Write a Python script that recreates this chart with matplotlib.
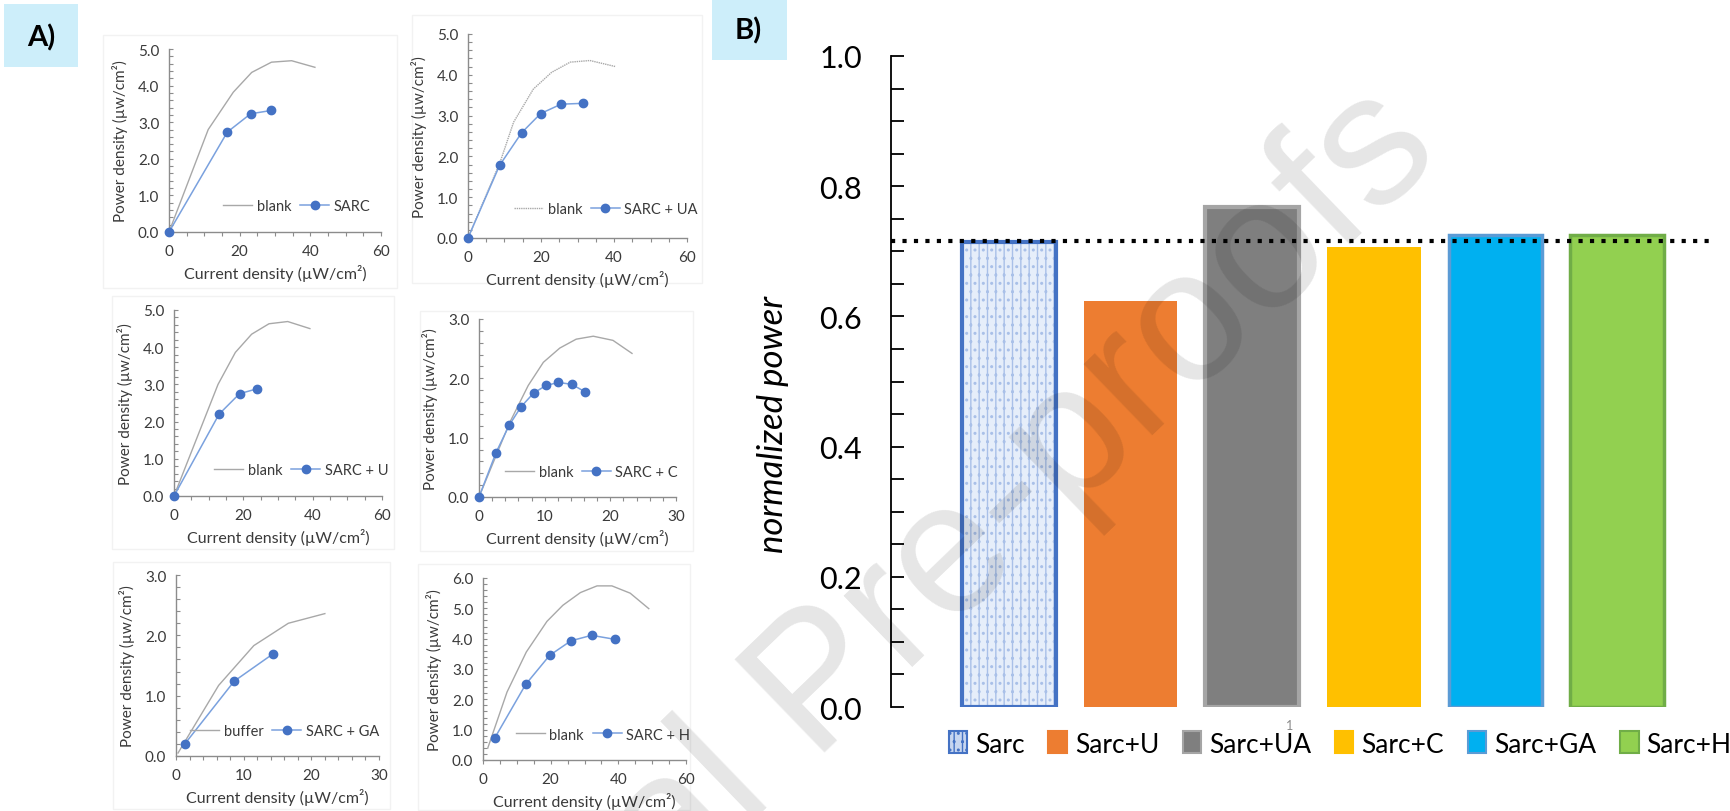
import matplotlib
matplotlib.use('Agg')
import numpy as np
import matplotlib.pyplot as plt
from matplotlib.ticker import MultipleLocator, FormatStrFormatter
from matplotlib.patches import Patch, Rectangle

plt.rcParams['font.family'] = ['Lato', 'DejaVu Sans']

W, H = 1730, 812

# ---------------- Panel A data ----------------
sarc_blank_x = [0, 11.1, 18.2, 23.4, 29.0, 34.7, 41.3]
sarc_blank_y = [0, 2.80, 3.82, 4.36, 4.64, 4.68, 4.50]
sarc_x = [0, 16.5, 23.1, 28.9]
sarc_y = [0, 2.73, 3.23, 3.32]

ua_blank_x = [0, 8.8, 12.5, 17.9, 22.9, 28.0, 33.4, 40.5]
ua_blank_y = [0, 1.86, 2.84, 3.65, 4.06, 4.31, 4.35, 4.20]
ua_x = [0, 8.65, 14.7, 19.9, 25.5, 31.4]
ua_y = [0, 1.78, 2.58, 3.05, 3.28, 3.30]

u_blank_x = [0, 12.7, 17.7, 22.4, 27.4, 32.8, 39.2]
u_blank_y = [0, 3.00, 3.86, 4.35, 4.63, 4.69, 4.50]
u_x = [0, 13.0, 18.9, 23.9]
u_y = [0, 2.20, 2.75, 2.88]

c_blank_x = [0, 4.7, 7.5, 9.8, 12.3, 14.8, 17.4, 20.4, 23.3]
c_blank_y = [0, 1.26, 1.88, 2.27, 2.51, 2.66, 2.71, 2.64, 2.42]
c_x = [0, 2.6, 4.6, 6.4, 8.3, 10.2, 12.1, 14.1, 16.2]
c_y = [0, 0.75, 1.21, 1.52, 1.75, 1.88, 1.93, 1.90, 1.77]

ga_buffer_x = [0.3, 6.3, 11.5, 16.6, 22.0]
ga_buffer_y = [0.05, 1.17, 1.83, 2.20, 2.36]
ga_x = [1.3, 8.6, 14.3]
ga_y = [0.20, 1.24, 1.69]

h_blank_x = [1.4, 7.1, 12.8, 18.9, 23.6, 28.8, 33.7, 38.1, 43.5, 49.0]
h_blank_y = [0.39, 2.24, 3.56, 4.57, 5.10, 5.52, 5.74, 5.74, 5.50, 4.99]
h_x = [3.5, 12.6, 19.7, 26.0, 32.1, 38.9]
h_y = [0.73, 2.49, 3.45, 3.93, 4.11, 3.98]

# ---------------- Panel B data ----------------
categories = ['Sarc', 'Sarc+U', 'Sarc+UA', 'Sarc+C', 'Sarc+GA', 'Sarc+H']
normalized_power = [0.714, 0.623, 0.768, 0.707, 0.725, 0.725]
reference_level = 0.716

fig = plt.figure(figsize=(W / 100, H / 100), dpi=100)


def frac_rect(x0, y0, x1, y1):
    return [x0 / W, 1 - y1 / H, (x1 - x0) / W, (y1 - y0) / H]


def add_box(x0, y0, x1, y1, fc='none', ec='#f2f2f2', lw=1.0):
    r = Rectangle((x0 / W, 1 - y1 / H), (x1 - x0) / W, (y1 - y0) / H,
                  transform=fig.transFigure, facecolor=fc, edgecolor=ec, lw=lw, zorder=0)
    fig.add_artist(r)


# faint frames around the small charts
add_box(103, 36, 397, 289)
add_box(412, 16, 702, 284)
add_box(112, 297, 394, 550)
add_box(420, 312, 693, 552)
add_box(113, 563, 390, 810)
add_box(418, 565, 690, 811)

# label boxes
add_box(4, 5, 78, 68, fc='#cdeefa', ec='none')
fig.text(41 / W, 1 - 38 / H, 'A)', fontsize=21, fontweight='bold', ha='center', va='center')
add_box(712, 0, 787, 61, fc='#cdeefa', ec='none')
fig.text(748 / W, 1 - 31 / H, 'B)', fontsize=21, fontweight='bold', ha='center', va='center')

tick_col = '#3a3a3a'
spine_col = '#8c8c8c'


def panel(px, bx, by, blabel, bls, sx, sy, slabel, xmax, ymax, xmajor, xminor, leg_x):
    ax = fig.add_axes(frac_rect(*px))
    ax.plot(bx, by, color='#a8a8a8', lw=1.0, ls=bls, label=blabel, zorder=2)
    ax.plot(sx, sy, color='#7aa1de', lw=1.1, marker='o', ms=6,
            mfc='#4472c4', mec='#4472c4', label=slabel, clip_on=False, zorder=3)
    ax.set_xlim(0, xmax)
    ax.set_ylim(0, ymax)
    ax.xaxis.set_major_locator(MultipleLocator(xmajor))
    ax.xaxis.set_minor_locator(MultipleLocator(xminor))
    ax.yaxis.set_major_locator(MultipleLocator(1))
    ax.yaxis.set_minor_locator(MultipleLocator(0.2))
    ax.yaxis.set_major_formatter(FormatStrFormatter('%.1f'))
    for s in ['top', 'right']:
        ax.spines[s].set_visible(False)
    for s in ['left', 'bottom']:
        ax.spines[s].set_color(spine_col)
        ax.spines[s].set_linewidth(1.0)
    ax.tick_params(axis='x', which='both', direction='out', length=3, width=0.8,
                   color=spine_col, labelsize=11, labelcolor=tick_col, pad=6)
    ax.tick_params(axis='y', which='both', direction='in', length=3, width=0.8,
                   color=spine_col, labelsize=11, labelcolor=tick_col, pad=7)
    ax.set_xlabel('Current density (µW/cm²)', fontsize=11.5, color=tick_col, labelpad=4)
    ax.set_ylabel('Power density (µw/cm²)', fontsize=11, color=tick_col, labelpad=7)
    ax.patch.set_alpha(0)
    ax.legend(loc='center right', bbox_to_anchor=(leg_x, 0.14), ncol=2, frameon=False,
              fontsize=10.5, handlelength=2.0, columnspacing=0.6, handletextpad=0.3,
              borderpad=0, borderaxespad=0, labelcolor=tick_col)
    return ax


panel((169, 50, 381, 233), sarc_blank_x, sarc_blank_y, 'blank', '-', sarc_x, sarc_y, 'SARC',
      60, 5, 20, 5, 0.95)
panel((468, 35, 687, 239), ua_blank_x, ua_blank_y, 'blank', (0, (1, 0.6)), ua_x, ua_y, 'SARC + UA',
      60, 5, 20, 5, 1.05)
panel((174, 311, 382, 497), u_blank_x, u_blank_y, 'blank', '-', u_x, u_y, 'SARC + U',
      60, 5, 20, 5, 1.03)
panel((479, 320, 676, 498), c_blank_x, c_blank_y, 'blank', '-', c_x, c_y, 'SARC + C',
      30, 3, 10, 2, 1.01)
panel((176, 576, 379, 757), ga_buffer_x, ga_buffer_y, 'buffer', '-', ga_x, ga_y, 'SARC + GA',
      30, 3, 10, 2, 1.0)
panel((483, 579, 686, 761), h_blank_x, h_blank_y, 'blank', '-', h_x, h_y, 'SARC + H',
      60, 6, 20, 5, 1.02)

# ---------------- Panel B ----------------
axb = fig.add_axes(frac_rect(891, 57, 1713, 708))
xpos = np.arange(len(categories))
bar_w = 0.77
faces = ['#e6eefa', '#ed7d31', '#7f7f7f', '#ffc000', '#00b0f0', '#92d050']
edges = ['#4472c4', '#ed7d31', '#a5a5a5', '#ffc000', '#5b9bd5', '#70ad47']
lws = [3.0, 0.0, 3.0, 0.0, 2.5, 2.5]

for i, (v, fc, ec, lw) in enumerate(zip(normalized_power, faces, edges, lws)):
    if i == 0:
        axb.bar(xpos[i], v, width=bar_w, color=fc, edgecolor='#a9c0e8', lw=0, hatch='||..', zorder=2)
        axb.bar(xpos[i], v, width=bar_w, color='none', edgecolor=ec, lw=lw, zorder=3)
    else:
        axb.bar(xpos[i], v, width=bar_w, color=fc, edgecolor=ec if lw > 0 else fc, lw=lw, zorder=2)

axb.axhline(reference_level, color='black', lw=3.0, ls=(0, (1, 1.75)), zorder=4)
axb.set_xlim(-0.971, 5.79)
axb.set_ylim(0, 1.0)
axb.yaxis.set_major_locator(MultipleLocator(0.2))
axb.yaxis.set_minor_locator(MultipleLocator(0.05))
axb.yaxis.set_major_formatter(FormatStrFormatter('%.1f'))
axb.set_xticks([])
for s in ['top', 'right', 'bottom']:
    axb.spines[s].set_visible(False)
axb.spines['left'].set_color('black')
axb.spines['left'].set_linewidth(1.3)
axb.tick_params(axis='y', which='both', direction='in', length=9, width=1.3, color='black',
                labelsize=22, pad=21)
axb.set_ylabel('normalized power', fontsize=25, style='italic')
axb.yaxis.set_label_coords(-0.124, 0.436)
axb.patch.set_alpha(0)

handles = []
for i, c in enumerate(categories):
    if i == 0:
        handles.append(Patch(facecolor='#c7d6f0', edgecolor='#4472c4', lw=1.5, hatch='||..'))
    else:
        handles.append(Patch(facecolor=faces[i], edgecolor=edges[i], lw=1.5))
fig.legend(handles, categories, loc='center', bbox_to_anchor=(1340 / W, 1 - 745 / H),
           bbox_transform=fig.transFigure, ncol=6, frameon=False, fontsize=19,
           handlelength=0.7, handleheight=0.9, handletextpad=0.3, columnspacing=0.9,
           borderpad=0)

# small stray footnote mark just after the "Sarc+UA" legend entry
fig.text(1290 / W, 1 - 726 / H, '1', fontsize=9, color='#8a8a8a', ha='center', va='center')

# watermark
fig.text(855 / W, 1 - 655 / H, 'Journal Pre-proofs', rotation=44, rotation_mode='anchor',
         fontsize=135, family='Liberation Sans', color='black', alpha=0.1,
         ha='center', va='center', zorder=10)

fig.savefig('out.png', dpi=100)
